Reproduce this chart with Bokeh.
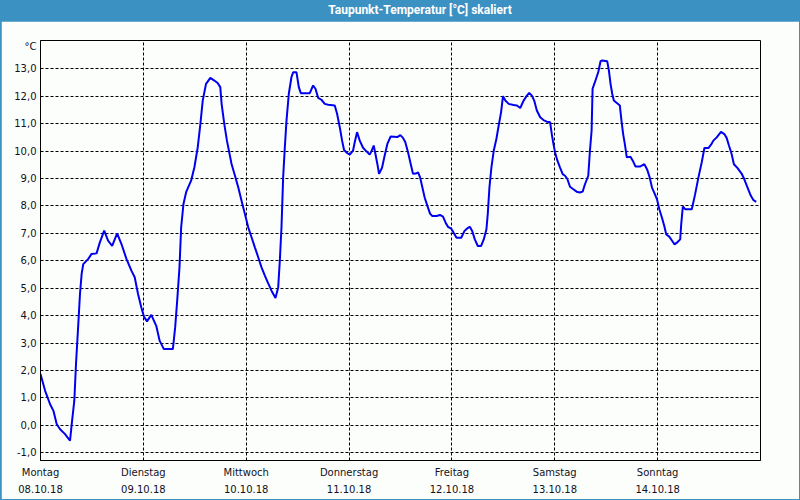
from bokeh.plotting import figure
from bokeh.models import FixedTicker, Div, Range1d
from bokeh.layouts import column
from bokeh.embed import file_html
from bokeh.resources import INLINE

title_text = "Taupunkt-Temperatur [°C] skaliert"
unit_label = "°C"
day_names = ["Montag", "Dienstag", "Mittwoch", "Donnerstag", "Freitag", "Samstag", "Sonntag"]
day_dates = ["08.10.18", "09.10.18", "10.10.18", "11.10.18", "12.10.18", "13.10.18", "14.10.18"]
day_ticks_h = [0, 24, 48, 72, 96, 120, 144]
y_ticks = list(range(-1, 14))
unit_tick = 13.81

# hours since Monday 08.10.18 00:00
hours = [
    0.0, 1.08, 2.24, 3.02, 3.79, 4.57, 5.73, 6.89, 7.28, 7.89, 8.28, 8.82, 9.21, 9.60, 9.98,
    11.15, 11.92, 13.08, 13.85, 14.86, 15.79, 16.72, 17.88, 18.89, 20.05, 21.21, 21.98, 22.76,
    23.53, 24.15, 24.85, 25.85, 27.01, 27.79, 28.79, 30.88, 31.42, 31.89, 32.43, 32.82, 33.36,
    33.98, 35.14, 35.91, 36.69, 37.31, 37.85, 38.62, 39.63, 40.56, 41.33, 41.95, 42.26, 42.88,
    43.50, 44.58, 45.36, 46.14, 46.91, 47.69, 48.47, 49.24, 50.02, 50.80, 51.57, 52.35, 53.13,
    53.90, 54.83, 55.46, 55.84, 56.23, 56.62, 57.01, 57.40, 57.94, 58.56, 58.95, 59.73, 60.27,
    60.74, 62.83, 63.61, 64.16, 64.78, 65.55, 66.33, 67.11, 68.66, 69.20, 69.83, 70.37, 70.83,
    71.61, 72.16, 72.93, 73.32, 73.86, 74.49, 75.26, 76.04, 76.82, 77.20, 77.75, 78.14, 78.60,
    78.99, 79.69, 80.31, 80.93, 81.71, 83.26, 83.96, 84.58, 85.13, 85.75, 86.29, 86.91, 87.56,
    88.11, 88.57, 89.11, 89.65, 90.27, 90.89, 91.43, 92.44, 93.21, 93.91, 94.53, 95.07, 95.85,
    96.46, 97.08, 98.17, 98.94, 99.56, 100.18, 100.72, 101.34, 102.04, 102.81, 103.43, 104.05,
    104.36, 104.75, 105.21, 105.75, 106.37, 106.91, 107.46, 107.92, 108.46, 109.24, 110.40,
    111.17, 111.94, 112.72, 113.49, 114.03, 114.65, 115.20, 115.81, 116.59, 117.36, 118.14,
    118.91, 119.30, 119.68, 120.07, 120.61, 121.23, 121.85, 122.39, 122.93, 123.55, 124.33,
    125.10, 125.88, 126.50, 127.04, 127.81, 128.20, 128.59, 128.82, 129.36, 130.15, 130.69,
    131.07, 132.24, 132.62, 133.01, 133.40, 133.78, 134.56, 135.18, 135.56, 135.95, 136.34,
    136.80, 137.65, 138.20, 138.81, 139.98, 140.90, 141.52, 142.14, 142.68, 143.30, 143.85,
    144.39, 145.01, 145.55, 146.01, 146.71, 147.33, 147.95, 148.49, 149.26, 149.50, 149.88,
    150.42, 151.97, 152.75, 153.52, 154.29, 154.91, 155.84, 156.46, 157.00, 157.78, 158.78,
    159.56, 160.10, 160.64, 161.26, 161.80, 162.65, 163.58, 164.20, 164.98, 165.75, 166.37,
    166.99,
]
dewpoint = [
    1.87, 1.26, 0.77, 0.53, 0.04, -0.14, -0.32, -0.56, 0.04, 0.90, 2.23, 3.69, 4.79, 5.52, 5.88,
    6.07, 6.25, 6.27, 6.67, 7.10, 6.73, 6.54, 7.00, 6.61, 6.07, 5.64, 5.40, 4.79,
    4.30, 3.96, 3.79, 4.03, 3.63, 3.09, 2.78, 2.78, 3.57, 4.54, 5.76, 7.22, 8.07,
    8.50, 8.92, 9.41, 10.14, 10.99, 11.84, 12.45, 12.67, 12.57, 12.48, 12.33, 11.72, 10.99,
    10.38, 9.53, 9.11, 8.68, 8.19, 7.71, 7.22, 6.86, 6.49, 6.13, 5.76, 5.46, 5.18,
    4.91, 4.64, 5.03, 6.00, 7.22, 9.05, 10.14, 11.11, 12.09, 12.70, 12.87, 12.87, 12.33,
    12.11, 12.11, 12.39, 12.27, 11.94, 11.87, 11.72, 11.69, 11.66, 11.36, 10.87, 10.38, 10.04,
    9.92, 9.87, 10.02, 10.32, 10.69, 10.38, 10.12, 9.99, 9.87, 9.99, 10.20, 9.90, 9.53,
    9.17, 9.39, 9.84, 10.26, 10.53, 10.51, 10.58, 10.48, 10.32, 9.96, 9.59, 9.17, 9.18,
    9.22, 9.04, 8.67, 8.30, 8.00, 7.72, 7.63, 7.63, 7.67, 7.61, 7.39, 7.24, 7.17,
    7.00, 6.84, 6.84, 7.09, 7.18, 7.24, 7.09, 6.78, 6.54, 6.54, 6.78, 7.15,
    7.70, 8.67, 9.40, 10.01, 10.44, 10.93, 11.41, 12.00, 11.84, 11.72, 11.68,
    11.66, 11.57, 11.84, 12.02, 12.12, 12.02, 11.84, 11.48, 11.23, 11.13, 11.07,
    11.05, 10.62, 10.26, 9.95, 9.65, 9.40, 9.16, 9.10, 8.98, 8.70, 8.61,
    8.52, 8.49, 8.52, 8.79, 9.10, 10.01, 10.74, 12.27, 12.51, 12.88, 13.28,
    13.30, 13.27, 12.94, 12.45, 12.09, 11.84, 11.74, 11.66, 11.11, 10.62, 10.26,
    9.77, 9.79, 9.65, 9.44, 9.44, 9.52, 9.34, 9.04, 8.67, 8.45, 8.24,
    7.88, 7.57, 7.27, 6.96, 6.88, 6.74, 6.60, 6.66, 6.78, 7.33, 7.98,
    7.88, 7.88, 8.43, 9.04, 9.59, 10.11, 10.11, 10.23, 10.38, 10.50, 10.70,
    10.62, 10.48, 10.20, 9.89, 9.52, 9.38, 9.18, 8.98, 8.67, 8.37, 8.21,
    8.15,
]

BLUE_BAR = "#3c91c3"
BG = "#fcfefc"
FONT = "DejaVu Sans"

title_div = Div(
    text=title_text, width=800, height=21,
    styles={
        "background-color": BLUE_BAR, "color": "white", "font-family": "Roboto",
        "font-weight": "bold", "font-size": "12px", "line-height": "21px",
        "text-align": "center", "padding-left": "40px", "box-sizing": "border-box",
        "margin": "0",
    },
)

p = figure(
    width=798, height=478, output_backend="svg", toolbar_location=None,
    x_range=Range1d(0, 168), y_range=Range1d(-1.28, 14.03),
    min_border_left=39, min_border_right=39, min_border_top=19, min_border_bottom=39,
    background_fill_color=BG, border_fill_color=BG,
    outline_line_color="black", outline_line_width=1,
    margin=(0, 1, 1, 1),
)

p.line(hours, dewpoint, line_color="#0000ee", line_width=2)

# y axis
y_labels = {t: f"{t},0" for t in y_ticks}
y_labels[unit_tick] = unit_label
p.yaxis.ticker = FixedTicker(ticks=y_ticks + [unit_tick])
p.yaxis.major_label_overrides = y_labels
p.yaxis.major_tick_out = 0
p.yaxis.major_tick_in = 0
p.yaxis.minor_tick_out = 0
p.yaxis.minor_tick_in = 0
p.yaxis.major_label_standoff = 4
p.yaxis.axis_line_color = "black"
p.yaxis.major_label_text_font = FONT
p.yaxis.major_label_text_font_size = "10px"
p.yaxis.major_label_text_color = "#111122"

# x axis
x_labels = {h: f"{n}\n{d}" for h, n, d in zip(day_ticks_h, day_names, day_dates)}
p.xaxis.ticker = FixedTicker(ticks=day_ticks_h)
p.xaxis.major_label_overrides = x_labels
p.xaxis.major_tick_out = 0
p.xaxis.major_tick_in = 0
p.xaxis.minor_tick_out = 0
p.xaxis.minor_tick_in = 0
p.xaxis.major_label_standoff = 6
p.xaxis.axis_line_color = "black"
p.xaxis.major_label_text_font = FONT
p.xaxis.major_label_text_font_size = "10px"
p.xaxis.major_label_text_line_height = 1.6
p.xaxis.major_label_text_color = "#111122"

# grids
p.ygrid.ticker = FixedTicker(ticks=y_ticks)
p.xgrid.ticker = FixedTicker(ticks=day_ticks_h[1:])
for g in (p.xgrid, p.ygrid):
    g.grid_line_color = "black"
    g.grid_line_dash = "3 2"
    g.grid_line_width = 1
    g.grid_line_alpha = 1.0

layout = column(title_div, p, spacing=0, styles={"background-color": BLUE_BAR})

open("out.html", "w").write(file_html(layout, INLINE))
